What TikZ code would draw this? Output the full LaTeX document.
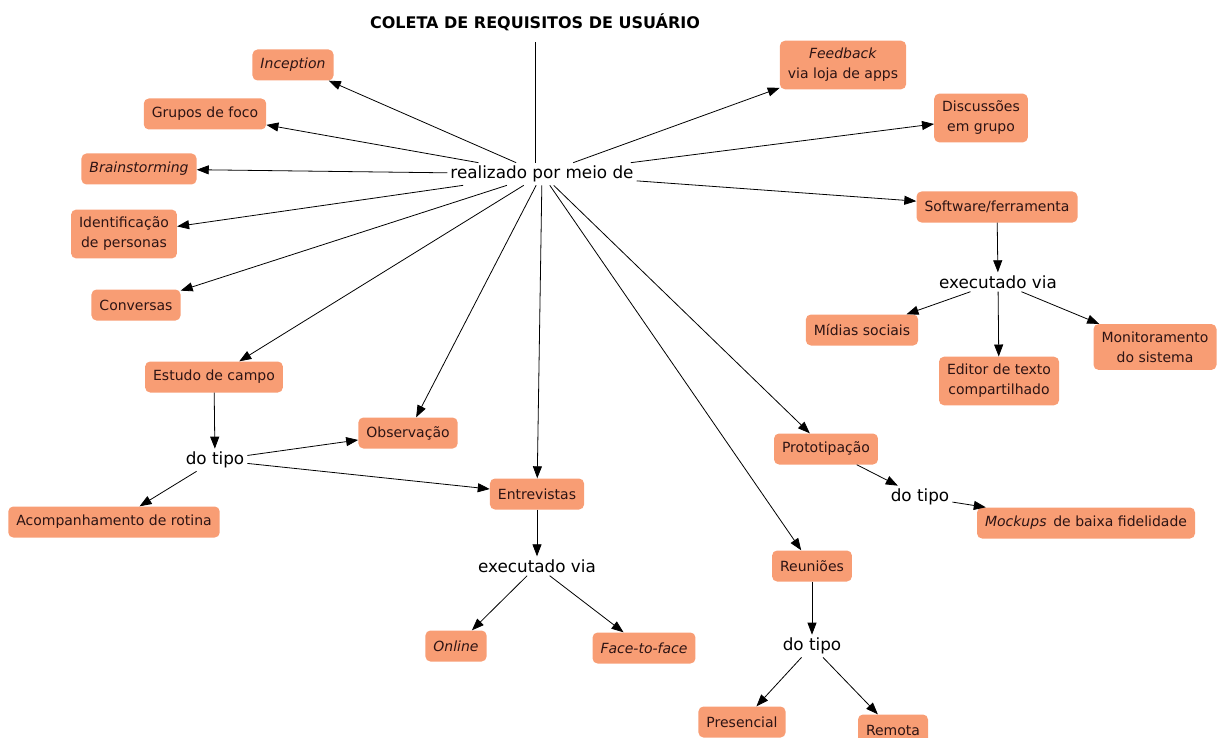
\documentclass[tikz,border=0pt]{standalone}
\usepackage{fontspec}
\setmainfont{DejaVu Sans}
\usetikzlibrary{arrows.meta}
\definecolor{boxfill}{RGB}{248,157,116}
\definecolor{boxtext}{RGB}{45,20,20}
\tikzset{
  concept/.style={fill=boxfill, rounded corners=5pt, inner xsep=8pt, inner ysep=7.5pt, minimum height=31pt, align=center, text=boxtext, font=\fontsize{14}{20}\selectfont},
  linkword/.style={inner sep=3pt, font=\fontsize{16.8}{19}\selectfont},
  link/.style={line width=0.8pt, -{Triangle[length=12pt,width=9pt]}},
}
\begin{document}
\begin{tikzpicture}[x=1pt, y=-1pt]
\useasboundingbox (0,0) rectangle (1217,738);
% titulo e palavra de ligacao central
\node[font=\fontsize{16}{18}\selectfont\bfseries] (TT) at (535, 22) {COLETA DE REQUISITOS DE USUÁRIO};
\node[linkword] (RM) at (542, 174) {realizado por meio de};
% conceitos do lado esquerdo
\node[concept] (IN) at (293, 65) {\textit{Inception}};
\node[concept] (GF) at (205, 114) {Grupos de foco};
\node[concept] (BS) at (139, 169) {\textit{Brainstorming}};
\node[concept] (IP) at (124, 234) {Identificação\\de personas};
\node[concept] (CV) at (136, 305) {Conversas};
\node[concept] (EC) at (214, 377) {Estudo de campo};
\node[linkword] (DT1) at (215, 460) {do tipo};
\node[concept] (OB) at (408, 433) {Observação};
\node[concept] (AR) at (114, 522) {Acompanhamento de rotina};
% entrevistas
\node[concept] (EN) at (537, 494) {Entrevistas};
\node[linkword] (EV1) at (537, 566) {executado via};
\node[concept] (ON) at (456, 646) {\textit{Online}};
\node[concept] (FF) at (644, 648) {\textit{Face-to-face}};
% reunioes
\node[concept] (RE) at (812, 566) {Reuniões};
\node[linkword] (DT2) at (812, 646) {do tipo};
\node[concept] (PR) at (742, 722) {Presencial};
\node[concept] (RT) at (893, 730) {Remota};
% prototipacao
\node[concept] (PT) at (826, 449) {Prototipação};
\node[linkword] (DT3) at (920, 497) {do tipo};
\node[concept] (MK) at (1086, 523) {\textit{Mockups}\, de baixa fidelidade};
% lado direito
\node[concept] (FB) at (843, 65) {\textit{Feedback}\\via loja de apps};
\node[concept] (DG) at (981, 118) {Discussões\\em grupo};
\node[concept] (SW) at (997, 207) {Software/ferramenta};
\node[linkword] (EV2) at (998, 282) {executado via};
\node[concept] (MS) at (862, 330) {Mídias sociais};
\node[concept] (ET) at (999, 381) {Editor de texto\\compartilhado};
\node[concept] (MO) at (1155, 347) {Monitoramento\\do sistema};

\draw[line width=0.8pt] ([yshift=-8pt]TT.south) -- (TT |- RM.north);
\foreach \t in {IN,GF,BS,IP,CV,EC,OB,EN,RE,PT,FB,DG,SW}
  \draw[link] (RM) -- (\t);
\draw[link] (EC) -- (DT1);
\draw[link] (DT1) -- (OB);
\draw[link] (DT1) -- (AR);
\draw[link] (DT1) -- (EN);
\draw[link] (EN) -- (EV1);
\draw[link] (EV1) -- (ON);
\draw[link] (EV1) -- (FF);
\draw[link] (RE) -- (DT2);
\draw[link] (DT2) -- (PR);
\draw[link] (DT2) -- (RT);
\draw[link] (PT) -- (DT3);
\draw[link] (DT3) -- (MK);
\draw[link] (SW) -- (EV2);
\draw[link] (EV2) -- (MS);
\draw[link] (EV2) -- (ET);
\draw[link] (EV2) -- (MO);

\end{tikzpicture}
\end{document}
